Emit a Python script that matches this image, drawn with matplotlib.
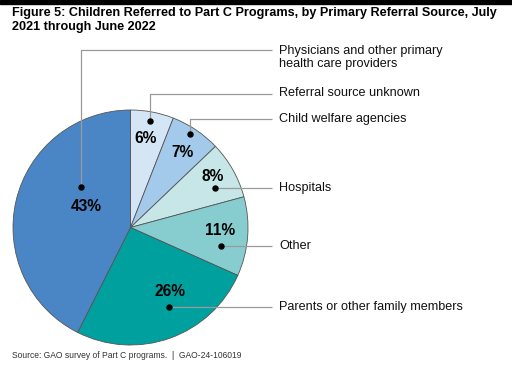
import matplotlib
matplotlib.use("Agg")
import matplotlib.pyplot as plt
import numpy as np

plt.rcParams['font.family'] = ['Liberation Sans', 'DejaVu Sans']

# data, clockwise from 12 o'clock
categories = ["Referral source unknown", "Child welfare agencies", "Hospitals",
              "Other", "Parents or other family members",
              "Physicians and other primary\nhealth care providers"]
shares = [6, 7, 8, 11, 26, 43]
colors = ["#d4e5f6", "#a3c9eb", "#c6e6e7", "#87cdcf", "#00a09e", "#4a86c5"]

title = ("Figure 5: Children Referred to Part C Programs, by Primary Referral Source, July\n"
         "2021 through June 2022")
source = "Source: GAO survey of Part C programs.  |  GAO-24-106019"

W, H = 512, 371
fig = plt.figure(figsize=(W / 100, H / 100), dpi=100)
ax = fig.add_axes([0, 0, 1, 1])

cx, cy, R = 130.5, H - 227.5, 117.5
wedges, _ = ax.pie(shares, colors=colors, startangle=90, counterclock=False,
                   center=(cx, cy), radius=R,
                   wedgeprops=dict(edgecolor="#555555", linewidth=0.6))

ax.set_xlim(0, W)
ax.set_ylim(0, H)
ax.set_aspect("equal")
ax.axis("off")

def wpos(w, t, frac):
    # point inside wedge: t = fraction across angle, frac = fraction of radius
    a = np.radians(w.theta1 + t * (w.theta2 - w.theta1))
    return cx + R * frac * np.cos(a), cy + R * frac * np.sin(a)

# placement inside each wedge (angle frac, radius frac) for dot and percent label
dot_place = [(0.51, 0.92), (0.55, 0.94), (0.35, 0.79), (0.32, 0.79), (0.57, 0.75), (0.33, 0.54)]
pct_place = [(0.54, 0.77), (0.47, 0.78), (0.59, 0.82), (0.57, 0.76), (0.63, 0.64), (0.42, 0.42)]
label_y = [H - 93.5, H - 119, None, None, None, H - 50]  # None -> straight line
line_end, text_x, line_h = 272, 279, 15

for w, cat, s, dp, pp, ly in zip(wedges, categories, shares, dot_place, pct_place, label_y):
    px, py = wpos(w, *pp)
    ax.text(px, py, f"{s}%", ha="center", va="center", fontsize=11.2,
            fontweight="bold", color="black", zorder=5)
    dx, dy = wpos(w, *dp)
    if ly is None:
        ly = dy
    ax.plot([dx, dx, line_end], [dy, ly, ly], color="#9a9a9a", lw=0.9, zorder=4,
            solid_capstyle="butt")
    ax.plot(dx, dy, "o", color="black", ms=3.6, zorder=6)
    n = cat.count("\n")
    ax.text(text_x, ly - n * line_h / 2, cat, ha="left", va="center", fontsize=9.1,
            color="#111111", linespacing=1.2)

# top black rule
fig.patches.append(plt.Rectangle((0, 1 - 4 / H), 1, 4 / H, transform=fig.transFigure,
                                 color="black"))
fig.text(12 / W, 1 - 7 / H, title, ha="left", va="top", fontsize=9.1,
         fontweight="bold", linespacing=1.2)
fig.text(12 / W, 1 - 355 / H, source, ha="left", va="center", fontsize=6.15,
         color="#333333")

fig.savefig("out.png", dpi=100)
